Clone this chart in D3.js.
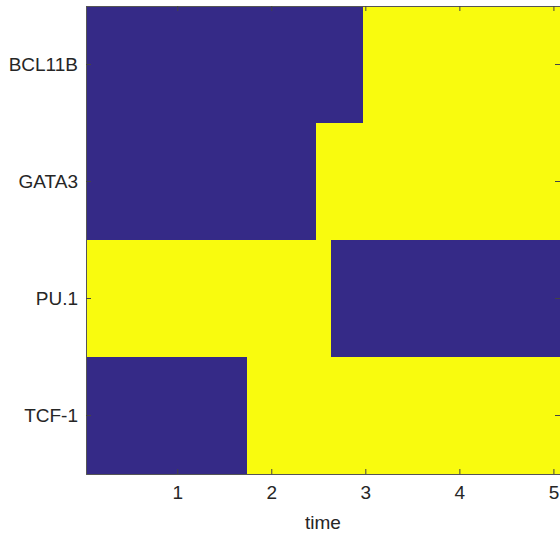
<!DOCTYPE html>
<html><head><meta charset="utf-8">
<script src="https://cdn.jsdelivr.net/npm/d3@7"></script>
<style>body{margin:0;background:#fff}svg{display:block}</style>
</head><body>
<script>
// Data
const genes = ["BCL11B", "GATA3", "PU.1", "TCF-1"];
const initialState = [0, 0, 1, 0];          // 0 = off (blue), 1 = on (yellow)
const switchTimes = [2.98, 2.48, 2.63, 1.74];
const timeRange = [0.03, 5.07];
const xTicks = [1, 2, 3, 4, 5];
const stateColors = ["#352a87", "#f9fb0e"];

const W = 560, H = 534;
const m = {left: 86, right: 0, top: 6, bottom: 60};
const svg = d3.select("body").append("svg").attr("width", W).attr("height", H);

const x = d3.scaleLinear().domain(timeRange).range([m.left, W - m.right]);
const y = d3.scaleBand().domain(genes).range([m.top, H - m.bottom]);

const segs = [];
genes.forEach((g, i) => {
  segs.push({g, t0: timeRange[0], t1: switchTimes[i], s: initialState[i]});
  segs.push({g, t0: switchTimes[i], t1: timeRange[1], s: 1 - initialState[i]});
});

svg.append("g").selectAll("rect").data(segs).join("rect")
  .attr("x", d => x(d.t0)).attr("width", d => x(d.t1) - x(d.t0))
  .attr("y", d => y(d.g)).attr("height", y.bandwidth())
  .attr("fill", d => stateColors[d.s])
  .attr("shape-rendering", "crispEdges");

const axColor = "#262626";
const font = "Liberation Sans, Arial, sans-serif";
const fs = 19;

// bottom axis
const xb = svg.append("g").attr("transform", `translate(0,${H - m.bottom})`)
  .call(d3.axisBottom(x).tickValues(xTicks).tickSize(-5).tickPadding(15).tickFormat(d3.format("d")));
// top ticks
const xt = svg.append("g").attr("transform", `translate(0,${m.top})`)
  .call(d3.axisTop(x).tickValues(xTicks).tickSize(-5).tickFormat(""));
// left axis
const yl = svg.append("g").attr("transform", `translate(${m.left},0)`)
  .call(d3.axisLeft(y).tickSize(-5).tickPadding(8));
// right ticks
const yr = svg.append("g").attr("transform", `translate(${W - m.right},0)`)
  .call(d3.axisRight(y).tickSize(-5).tickFormat(""));

[xb, xt, yl, yr].forEach(g => {
  g.selectAll("path.domain").attr("stroke", "#555").attr("stroke-width", 1);
  g.selectAll(".tick line").attr("stroke", "#444").attr("stroke-width", 1);
  g.selectAll("text").attr("fill", axColor).attr("font-family", font).attr("font-size", fs);
});
xb.selectAll("text").attr("dy", "0.5em");

svg.append("text").attr("x", x(2.55)).attr("y", 529)
  .attr("text-anchor", "middle").attr("fill", axColor)
  .attr("font-family", font).attr("font-size", fs).text("time");
</script>
</body></html>
